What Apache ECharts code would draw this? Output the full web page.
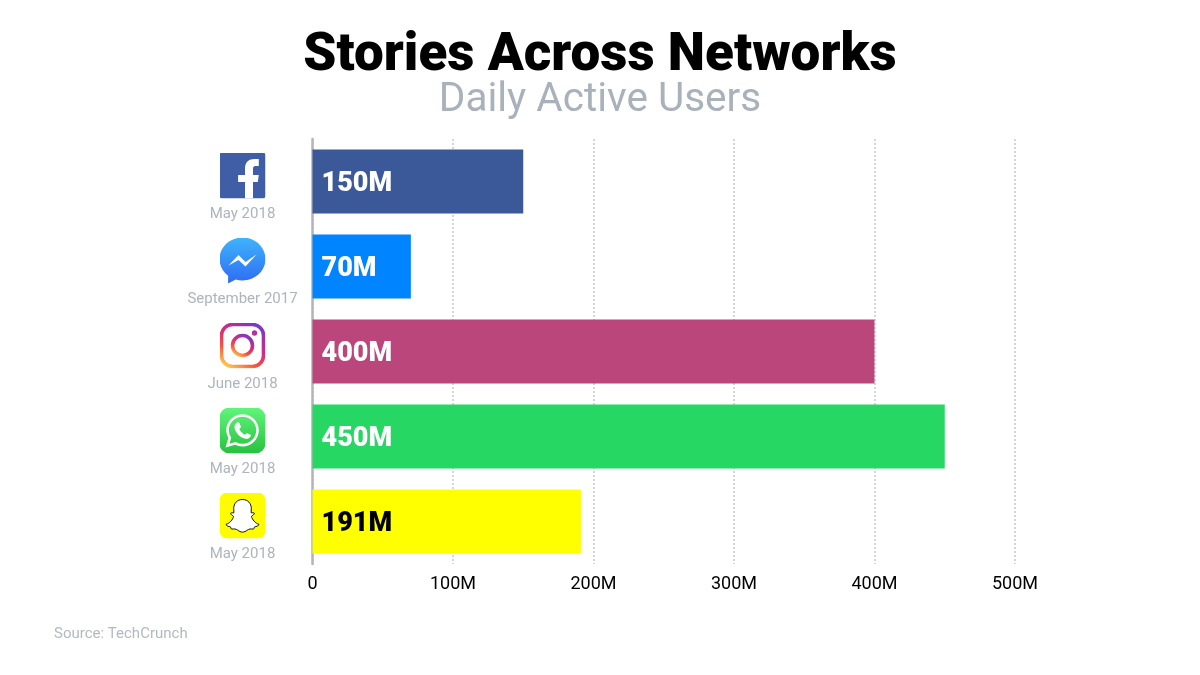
<!DOCTYPE html>
<html>
<head>
<meta charset="utf-8">
<style>html,body{margin:0;padding:0;background:#fff}#chart{width:1200px;height:675px}</style>
<script src="https://cdn.jsdelivr.net/npm/echarts@6/dist/echarts.min.js"></script>
</head>
<body>
<div id="chart"></div>
<script>
var networks = ['facebook', 'messenger', 'instagram', 'whatsapp', 'snapchat'];
var dates = ['May 2018', 'September 2017', 'June 2018', 'May 2018', 'May 2018'];
var dailyUsers = [150, 70, 400, 450, 191];
var barColors = ['#3b5998', '#0084ff', '#bb467c', '#27d764', '#ffff00'];
var labelColors = ['#ffffff', '#ffffff', '#ffffff', '#ffffff', '#000000'];
var ticks = [0, 100, 200, 300, 400, 500];

// logos are small inline svgs, used as rich text backgrounds on the axis labels
function svg(body) {
  return 'data:image/svg+xml;charset=utf-8,' + encodeURIComponent(
    '<svg xmlns="http://www.w3.org/2000/svg" width="46" height="46" viewBox="0 0 46 46">' + body + '</svg>');
}
var icons = {
  facebook: svg('<rect width="46" height="46" rx="3" fill="#3f5ea6"/>' +
    '<path fill="#fff" d="M25.5 46V29.6H18.6V22.4H25.5V16C25.5 9.5 29.5 6.5 35 6.5H39.3V13.5H36C34 13.5 33.5 14.5 33.5 16.5V22.4H39.3L38.3 29.6H33.5V46Z"/>'),
  messenger: svg('<defs><linearGradient id="m" x1="0" y1="0" x2="0" y2="1"><stop offset="0" stop-color="#3fb4fb"/><stop offset="1" stop-color="#2f6bf5"/></linearGradient></defs>' +
    '<path fill="url(#m)" d="M23 0C10.3 0 0 9.6 0 21.6C0 28.4 3.3 34.4 8.6 38.3V46L16.2 42C18.4 42.7 20.6 43 23 43C35.7 43 46 33.5 46 21.6C46 9.6 35.7 0 23 0Z"/>' +
    '<path fill="#fff" d="M9 28L19 17.5L26 24.5L37 17L26 29L19 22.5Z"/>'),
  instagram: svg('<defs><linearGradient id="i" x1="0.15" y1="1" x2="0.75" y2="0"><stop offset="0" stop-color="#fdc44f"/><stop offset="0.3" stop-color="#f3543c"/><stop offset="0.6" stop-color="#d62a80"/><stop offset="1" stop-color="#7f38c0"/></linearGradient></defs>' +
    '<rect x="2" y="2" width="42" height="42" rx="11" fill="#fff" stroke="url(#i)" stroke-width="3.6"/>' +
    '<circle cx="23" cy="23" r="10" fill="none" stroke="url(#i)" stroke-width="3.6"/>' +
    '<circle cx="35" cy="10.5" r="2.7" fill="#b92f9c"/>'),
  whatsapp: svg('<defs><linearGradient id="w" x1="0" y1="0" x2="0" y2="1"><stop offset="0" stop-color="#61f57c"/><stop offset="1" stop-color="#26c23e"/></linearGradient></defs>' +
    '<rect width="46" height="46" rx="10" fill="url(#w)"/>' +
    '<path fill="none" stroke="#fff" stroke-width="2.6" d="M8 38L10.3 30.5C8.8 28 8 25.6 8 22.8C8 14.6 14.7 8 23 8C31.3 8 38 14.6 38 22.8C38 31 31.3 37.6 23 37.6C20.5 37.6 18.1 37 16 35.8Z"/>' +
    '<path fill="#fff" d="M18.2 14.8C17 15 15 16.8 15 19.6C15 25 21.4 31.4 27.2 31.4C29.6 31.4 31.6 29.4 31.4 27.6L27.5 25.4L25.4 27.2C23 26.2 20.8 24 19.8 21.6L21.6 19.4L19.6 15Z"/>'),
  snapchat: svg('<rect width="46" height="46" rx="8" fill="#fffc00"/>' +
    '<path fill="#fff" stroke="#111" stroke-width="1" d="M23 7C28.5 7 31.8 11 31.8 16L31.6 20.2C32.6 20.8 34.2 19.6 34.8 20.6C35.4 22 32.6 23 32 23.8C32.4 27 36.2 31 39.4 31.8C39.6 33.4 36.4 34 35 34.4C34.4 35.4 34.8 36.6 33.6 36.6C31.4 36.2 29.6 36.4 27.8 37.6C26.2 38.8 24.8 39.6 23 39.6C21.2 39.6 19.8 38.8 18.2 37.6C16.4 36.4 14.6 36.2 12.4 36.6C11.2 36.6 11.6 35.4 11 34.4C9.6 34 6.4 33.4 6.6 31.8C9.8 31 13.6 27 14 23.8C13.4 23 10.6 22 11.2 20.6C11.8 19.6 13.4 20.8 14.4 20.2L14.2 16C14.2 11 17.5 7 23 7Z"/>')
};

var richLabels = {
  date: { fontFamily: 'Roboto', fontSize: 15, color: '#aeb4bd', lineHeight: 32, align: 'center' }
};
networks.forEach(function (n) {
  richLabels[n] = { width: 46, height: 46, align: 'center', backgroundColor: { image: icons[n] } };
});

var myChart = echarts.init(document.getElementById('chart'), null, { renderer: 'canvas' });

var option = {
  backgroundColor: '#ffffff',
  animation: false,
  title: [
    {
      text: 'Stories Across Networks', left: 'center', top: 25,
      textStyle: { fontFamily: 'Roboto', fontWeight: 900, fontSize: 53, color: '#000000' }
    },
    {
      text: 'Daily Active Users', left: 'center', top: 75,
      textStyle: { fontFamily: 'Roboto', fontWeight: 400, fontSize: 40.5, color: '#a9b1bb' }
    },
    {
      text: 'Source: TechCrunch', left: 49, top: 622,
      textStyle: { fontFamily: 'Roboto', fontWeight: 400, fontSize: 15, color: '#b3b9c1' }
    }
  ],
  grid: { left: 312.5, right: 185, top: 139, height: 425 },
  xAxis: {
    type: 'value', min: 0, max: ticks[ticks.length - 1], interval: 100,
    axisLine: { show: false },
    axisTick: { show: false },
    splitLine: { lineStyle: { color: '#d6d6da', type: 'dotted', width: 2 } },
    axisLabel: {
      margin: 11, color: '#000000', fontFamily: 'Roboto', fontSize: 18,
      formatter: function (v) { return v === 0 ? '0' : v + 'M'; }
    }
  },
  yAxis: {
    type: 'category', inverse: true, data: networks,
    axisLine: { lineStyle: { color: '#b4b4ba', width: 2.5 } },
    axisTick: { show: false },
    axisLabel: {
      margin: 70, align: 'center', verticalAlign: 'middle', padding: [20, 0, 0, 0],
      formatter: function (n, i) { return '{' + n + '|}\n{date|' + dates[i] + '}'; },
      rich: richLabels
    }
  },
  series: [{
    type: 'bar', barWidth: 64,
    data: dailyUsers.map(function (v, i) {
      return {
        value: v,
        itemStyle: { color: barColors[i] },
        label: { color: labelColors[i] }
      };
    }),
    label: {
      show: true, position: 'insideLeft', distance: 9, offset: [0, 3],
      fontFamily: 'Roboto', fontWeight: 900, fontSize: 27,
      formatter: function (p) { return p.value + 'M'; }
    }
  }]
};

myChart.setOption(option);
</script>
</body>
</html>
